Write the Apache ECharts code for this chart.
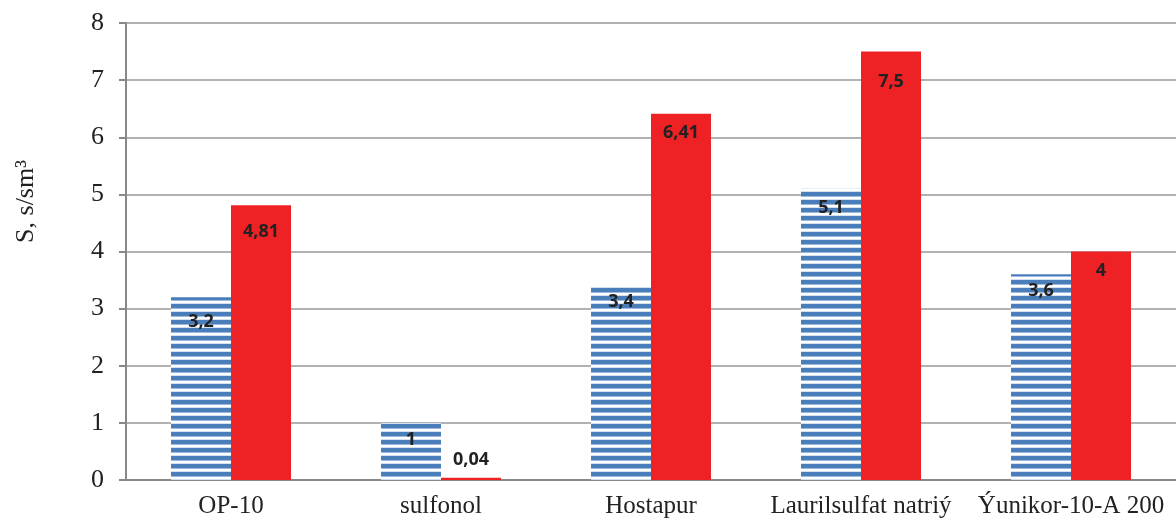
<!DOCTYPE html>
<html>
<head>
<meta charset="utf-8">
<script src="https://cdn.jsdelivr.net/npm/echarts@6/dist/echarts.min.js"></script>
<style>html,body{margin:0;padding:0;background:#fff;}#c{width:1176px;height:525px;}</style>
</head>
<body>
<div id="c"></div>
<script>
var categories = ['OP-10', 'sulfonol', 'Hostapur', 'Laurilsulfat natriý', 'Ýunikor-10-A 200'];
var blueValues = [3.2, 1, 3.4, 5.1, 3.6];
var redValues = [4.81, 0.04, 6.41, 7.5, 4];
var yTicks = [0, 1, 2, 3, 4, 5, 6, 7, 8];
var yTitle = 'S, s/sm³';

// label distances (style only)
var blueDist = [16, 8, 7, 10, 8];
var redDist = [18, 9, 10, 21, 10];

var SERIF = '"Times New Roman", "Liberation Serif", Times, serif';

var pc = document.createElement('canvas');
pc.width = 8; pc.height = 8;
var g = pc.getContext('2d');
g.fillStyle = '#ffffff'; g.fillRect(0, 0, 8, 8);
g.fillStyle = '#4a7ebb'; g.fillRect(0, 0, 8, 4);
g.fillStyle = '#9fbbdf'; g.fillRect(0, 4, 8, 1);
g.fillStyle = '#d3e0f0'; g.fillRect(0, 7, 8, 1);

var labelBase = {
  show: true, fontFamily: '"Open Sans", "Liberation Sans", sans-serif', fontWeight: 'bold', fontSize: 18,
  lineHeight: 18, color: '#222',
  formatter: function (p) { return String(p.value).replace('.', ','); }
};

var chart = echarts.init(document.getElementById('c'));
chart.setOption({
  animation: false,
  grid: { left: 126, right: 0, top: 23, bottom: 45 },
  graphic: [{
    type: 'text', left: 13, top: 160, rotation: Math.PI / 2,
    style: { text: yTitle, font: '26px ' + SERIF, fill: '#222' }
  }],
  xAxis: {
    type: 'category', data: categories,
    axisLine: { lineStyle: { color: '#888', width: 2 } },
    axisTick: { show: false },
    axisLabel: { interval: 0, fontFamily: SERIF, fontSize: 25, color: '#222', margin: 14 }
  },
  yAxis: {
    type: 'value', min: 0, max: 8, interval: 1,
    axisLine: { show: true, lineStyle: { color: '#888', width: 2 } },
    axisTick: { show: true, length: 7, lineStyle: { color: '#888', width: 2 } },
    axisLabel: {
      fontFamily: SERIF, fontSize: 26, color: '#222', margin: 22,
      formatter: function (v) { return yTicks.indexOf(v) >= 0 ? String(v) : ''; }
    },
    splitLine: { lineStyle: { color: '#999', width: 1.5 } }
  },
  series: [
    {
      type: 'bar', barWidth: 60, barGap: '0%',
      itemStyle: { color: { image: pc, repeat: 'repeat' } },
      data: blueValues.map(function (v, i) {
        return { value: v, label: Object.assign({}, labelBase, { position: 'insideTop', distance: blueDist[i] }) };
      })
    },
    {
      type: 'bar', barWidth: 60, barGap: '0%',
      itemStyle: { color: '#ee2124' },
      data: redValues.map(function (v, i) {
        var pos = v < 0.5 ? 'top' : 'insideTop';
        return { value: v, label: Object.assign({}, labelBase, { position: pos, distance: redDist[i] }) };
      })
    }
  ]
});
</script>
</body>
</html>
